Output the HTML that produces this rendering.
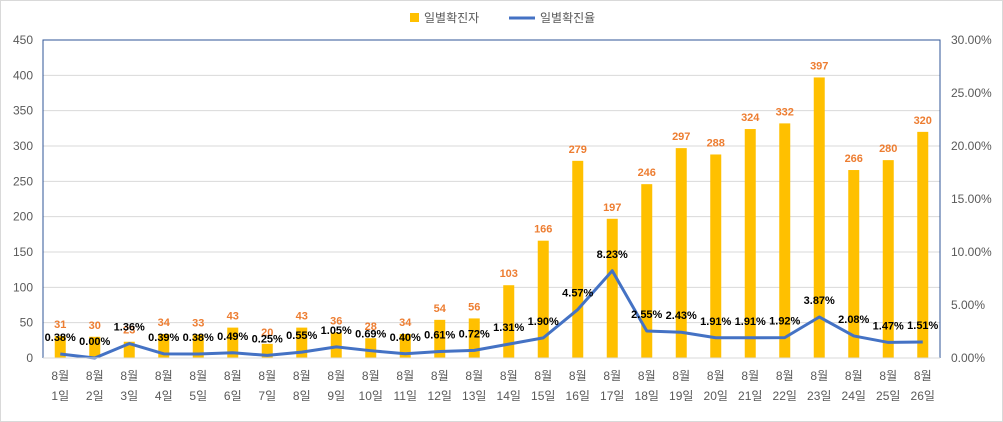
<!DOCTYPE html>
<html><head><meta charset="utf-8"><style>
body{margin:0;background:#fff;}
svg{display:block;font-family:"Liberation Sans","Noto Sans CJK KR",sans-serif;}
</style></head><body>
<svg id="chart" width="1003" height="422">
<rect x="0.5" y="0.5" width="1002" height="421" fill="#fff" stroke="#d9d9d9"/>
<g id="grid"></g><g id="bars"></g><g id="line"></g><g id="labels"></g><g id="axes"></g>
<g>
<rect x="410" y="13" width="9" height="9" fill="#FFC000"/>
<text x="424" y="22" font-size="12" fill="#595959">일별확진자</text>
<line x1="509" y1="18" x2="535" y2="18" stroke="#4472C4" stroke-width="3"/>
<text x="540" y="22" font-size="12" fill="#595959">일별확진율</text>
</g>
</svg>
<script>
const days=["1일","2일","3일","4일","5일","6일","7일","8일","9일","10일","11일","12일","13일","14일","15일","16일","17일","18일","19일","20일","21일","22일","23일","24일","25일","26일"];
const counts=[31,30,23,34,33,43,20,43,36,28,34,54,56,103,166,279,197,246,297,288,324,332,397,266,280,320];
const rates=[0.38,0.00,1.36,0.39,0.38,0.49,0.25,0.55,1.05,0.69,0.40,0.61,0.72,1.31,1.90,4.57,8.23,2.55,2.43,1.91,1.91,1.92,3.87,2.08,1.47,1.51];
const leftTicks=[0,50,100,150,200,250,300,350,400,450];
const rightTicks=[0,5,10,15,20,25,30];
const L=43,R=940,T=40,B=358,NS="http://www.w3.org/2000/svg";
const bw=(R-L)/days.length;
const xC=i=>L+bw*(i+0.5);
const yL=v=>B-(v/450)*(B-T);
const yR=v=>B-(v/30)*(B-T);
function mk(tag,attrs,parent,text){const e=document.createElementNS(NS,tag);for(const k in attrs)e.setAttribute(k,attrs[k]);if(text!==undefined)e.textContent=text;document.getElementById(parent).appendChild(e);return e;}
leftTicks.forEach(t=>{
 if(t>0){const g=mk('line',{x1:L,x2:R,y1:yL(t),y2:yL(t),stroke:'#d9d9d9'},'grid');
 
 }
 const tx=mk('text',{x:33,y:yL(t)+4,'font-size':12,fill:'#595959','text-anchor':'end'},'axes',String(t));
 
 
});
rightTicks.forEach(t=>{
 const tx=mk('text',{x:951,y:yR(t)+4,'font-size':12,fill:'#595959'},'axes',t.toFixed(2)+'%');
 
 
});
let ax=mk('polyline',{points:`${L},${B} ${L},${T} ${R},${T} ${R},${B}`,fill:'none',stroke:'#2F5597'},'axes');


let base=mk('line',{x1:L,x2:R,y1:B,y2:B,stroke:'#d9d9d9'},'axes');


counts.forEach((v,i)=>{
 const b=mk('rect',{x:xC(i)-5.5,y:yL(v),width:11,height:B-yL(v),fill:'#FFC000'},'bars');
 
 
 const t=mk('text',{x:xC(i),y:yL(v)-8,'font-size':11,'font-weight':'bold',fill:'#ED7D31','text-anchor':'middle'},'labels',String(v));
 
 
 const a=mk('text',{x:xC(i),y:380,'font-size':12,fill:'#595959','text-anchor':'middle'},'axes','8월');
 
 
 const d=mk('text',{x:xC(i),y:400,'font-size':12,fill:'#595959','text-anchor':'middle'},'axes',days[i]);
 
 
});
const pl=mk('polyline',{points:rates.map((r,i)=>xC(i)+','+yR(r)).join(' '),fill:'none',stroke:'#4472C4','stroke-width':3,'stroke-linejoin':'round'},'line');


rates.forEach((r,i)=>{
 const t=mk('text',{x:xC(i),y:yR(r)-13,'font-size':11,'font-weight':'bold',fill:'#000','text-anchor':'middle'},'labels',r.toFixed(2)+'%');
 
 
});
</script>
</body></html>
